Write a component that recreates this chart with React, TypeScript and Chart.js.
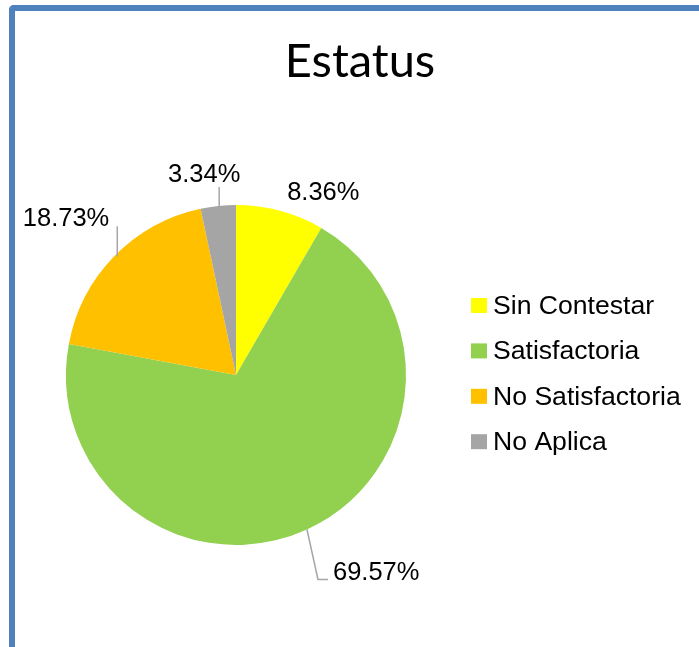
import React, { useEffect, useRef } from "react";
import { Chart, registerables } from "chart.js";

Chart.register(...registerables);

const titleText = "Estatus";
const categories = ["Sin Contestar", "Satisfactoria", "No Satisfactoria", "No Aplica"];
const values = [8.36, 69.57, 18.73, 3.34];
const sliceColors = ["#FFFF00", "#92D050", "#FFC000", "#A5A5A5"];
const valueLabels = values.map((v) => v.toFixed(2) + "%");

// label placement relative to each slice's outer mid point (style only)
const labelStyles = [
  { align: "left", dx: 7, dy: -11, leader: null as null | number[][] },
  { align: "left", dx: 26, dy: 51, leader: [[0, 0], [11, 50], [21, 50]] },
  { align: "right", dx: -5, dy: -30, leader: [[3, 0], [3, -30]] },
  { align: "center", dx: -14, dy: -24, leader: [[1, 0], [1, -19]] },
];

const decorPlugin = {
  id: "decor",
  afterDatasetsDraw(chart: any) {
    const ctx = chart.ctx;
    const meta = chart.getDatasetMeta(0);
    ctx.save();
    // title
    ctx.fillStyle = "#000";
    ctx.font = "47px Lato";
    ctx.textAlign = "center";
    ctx.textBaseline = "alphabetic";
    ctx.fillText(titleText, 360, 77);

    // data labels
    meta.data.forEach((el: any, i: number) => {
      const p = el.getProps(["x", "y", "startAngle", "endAngle", "outerRadius"], true);
      const mid = (p.startAngle + p.endAngle) / 2;
      const px = p.x + Math.cos(mid) * p.outerRadius;
      const py = p.y + Math.sin(mid) * p.outerRadius;
      const st = labelStyles[i];
      if (st.leader) {
        ctx.strokeStyle = "#A6A6A6";
        ctx.lineWidth = 1.5;
        ctx.beginPath();
        st.leader.forEach((pt, k) => {
          if (k === 0) ctx.moveTo(px + pt[0], py + pt[1]);
          else ctx.lineTo(px + pt[0], py + pt[1]);
        });
        ctx.stroke();
      }
      ctx.fillStyle = "#000";
      ctx.font = "25.5px 'Liberation Sans', Arial, sans-serif";
      ctx.textAlign = st.align;
      ctx.textBaseline = "alphabetic";
      ctx.fillText(valueLabels[i], px + st.dx, py + st.dy);
    });

    // legend
    const lx = 471;
    const ly0 = 314;
    const step = 45.4;
    categories.forEach((c, i) => {
      const by = ly0 + i * step;
      ctx.fillStyle = sliceColors[i];
      ctx.fillRect(lx, by - 16, 16, 15);
      ctx.fillStyle = "#000";
      ctx.font = "26.6px 'Liberation Sans', Arial, sans-serif";
      ctx.textAlign = "left";
      ctx.fillText(c, lx + 22, by);
    });
    ctx.restore();
  },
};

export default function App() {
  const ref = useRef<HTMLCanvasElement>(null);
  useEffect(() => {
    if (!ref.current) return;
    const chart = new Chart(ref.current, {
      type: "pie",
      data: {
        labels: categories,
        datasets: [
          {
            data: values,
            backgroundColor: sliceColors,
            borderWidth: 0,
          },
        ],
      },
      options: {
        responsive: false,
        animation: false,
        layout: { padding: { left: 66, right: 293, top: 205, bottom: 102 } },
        plugins: {
          legend: { display: false },
          title: { display: false },
          tooltip: { enabled: false },
        },
      },
      plugins: [decorPlugin],
    });
    return () => chart.destroy();
  }, []);
  return (
    <div style={{ position: "absolute", left: 0, top: 0, width: 699, height: 647, background: "#fff", overflow: "hidden" }}>
      <div
        style={{
          position: "absolute",
          left: 9,
          top: 5,
          width: 720,
          height: 680,
          borderTop: "6px solid #4F81BD",
          borderLeft: "6px solid #4F81BD",
          borderTopLeftRadius: 5,
        }}
      />
      <canvas ref={ref} width={699} height={647} style={{ position: "absolute", left: 0, top: 0 }} />
    </div>
  );
}
